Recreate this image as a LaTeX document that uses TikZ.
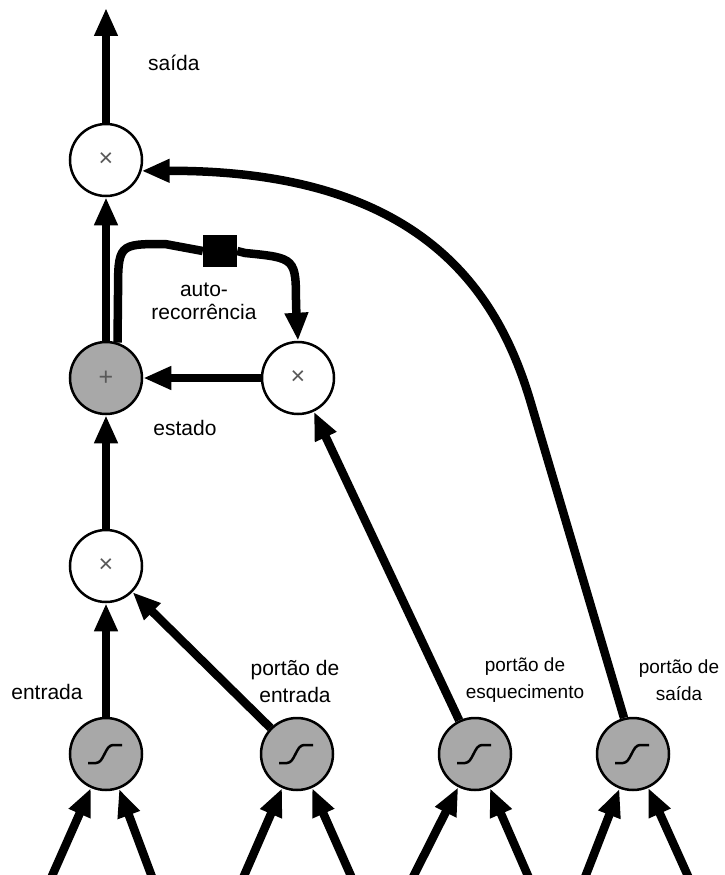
\documentclass[tikz,border=0pt]{standalone}
\usepackage{fontspec}
\setmainfont{Liberation Sans}
\usetikzlibrary{arrows.meta}
\definecolor{cellgray}{RGB}{168,168,168}

\begin{document}
\begin{tikzpicture}[
	x=1pt, y=-1pt,
	unit/.style = {circle, draw, line width=2.5pt, minimum size=72pt, inner sep=0pt,
		fill=white, text=black!65, font=\fontsize{25}{25}\selectfont},
	sum/.style = {unit, fill=cellgray},
	sigm/.style = {unit, fill=cellgray, path picture={
			\draw[line width=2.5pt]
			([shift={(-18pt,-9pt)}]path picture bounding box.center)
			-- ([shift={(-10pt,-9pt)}]path picture bounding box.center)
			.. controls ([shift={(-2pt,-9pt)}]path picture bounding box.center)
			and ([shift={(-1pt,9pt)}]path picture bounding box.center)
			.. ([shift={(7pt,9pt)}]path picture bounding box.center)
			-- ([shift={(16pt,9pt)}]path picture bounding box.center);}},
	delay/.style = {fill=black, minimum width=34pt, minimum height=32pt, inner sep=0pt},
	wire/.style = {line width=8.5pt},
	flow/.style = {wire, -{Triangle[length=28pt,width=22pt]}},
	lbl/.style = {font=\fontsize{21}{23}\selectfont, align=center, inner sep=0pt},
	lblgate/.style = {lbl, font=\fontsize{21}{27}\selectfont},
	lblsmall/.style = {lbl, font=\fontsize{19}{27}\selectfont}
	]
	\useasboundingbox (0,0) rectangle (724,875);
	\clip (0,0) rectangle (724,875);

	\node[unit] (om) at (106,160) {×};
	\node[sum] (sm) at (106,378) {+};
	\node[unit] (fm) at (298,378) {×};
	\node[unit] (im) at (106,566) {×};
	\node[sigm] (s1) at (106,754) {};
	\node[sigm] (s2) at (297,754) {};
	\node[sigm] (s3) at (475,754) {};
	\node[sigm] (s4) at (633,754) {};
	\node[delay] (dl) at (220,251) {};
	\coordinate (top) at (106,8);

	\draw[flow] (om) -- (top);
	\draw[flow] (sm) -- (om);
	\draw[flow] (fm) -- (sm);
	\draw[flow] (im) -- (sm);
	\draw[flow] (s1) -- (im);
	\draw[flow] (s2) -- (im);
	\draw[flow] (s3) -- (fm);
	\draw[flow] (s4.104) -- (530,400) .. controls (497,290) and (420,170) .. (om.-17);
	\draw[wire] (sm.72) -- (118,295) .. controls (118,244) .. (165,244) -- (dl.west);
	\draw[flow] (dl.east) -- (245,253) .. controls (296,258) .. (296,305) -- (fm.north);

	\foreach \n/\l/\r in {s1/48/155, s2/240/355, s3/409/532, s4/582/692}
		{\draw[flow] (\l,885) -- (\n);
		\draw[flow] (\r,885) -- (\n);}

	\node[lbl, anchor=west] (tout) at (148,63) {saída};
	\node[lbl] (trec) at (204,301) {auto-\\recorrência};
	\node[lbl] (test) at (185,428) {estado};
	\node[lbl] (tin) at (47,692) {entrada};
	\node[lblgate] (tig) at (295,681) {portão de\\entrada};
	\node[lblsmall] (tfg) at (525,680) {portão de\\esquecimento};
	\node[lblsmall] (tog) at (679,680) {portão de\\saída};
\end{tikzpicture}
\end{document}
